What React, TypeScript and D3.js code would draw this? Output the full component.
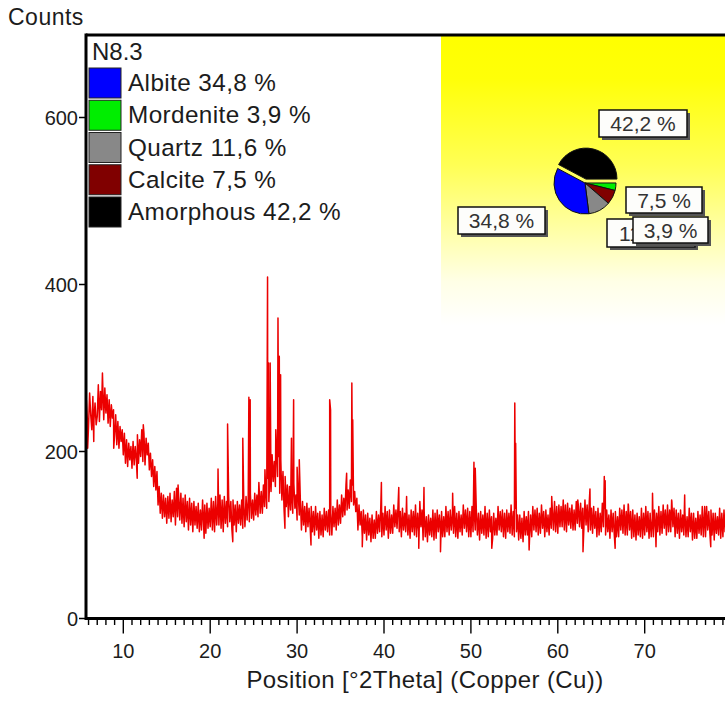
import React from 'react';
import * as d3 from 'd3';

// ---- Diffractogram data (counts every 0.125 °2Theta starting at 5.75) ----
const twoThetaStart = 5.75;
const twoThetaStep = 0.125;
const counts = [
  262, 236,
  230, 270, 244, 226, 266, 238, 258, 232,
  242, 280, 236, 272, 250, 284, 238, 276,
  246, 268, 234, 262, 230, 256, 240, 250,
  220, 244, 208, 236, 204, 230, 212, 226,
  196, 222, 186, 214, 182, 210, 190, 206,
  180, 212, 184, 206, 190, 220, 186, 214,
  194, 226, 188, 222, 184, 216, 196, 210,
  178, 198, 170, 190, 158, 182, 154, 176,
  136, 158, 126, 150, 120, 148, 122, 144,
  114, 146, 120, 150, 116, 142, 122, 152,
  112, 156, 122, 146, 118, 150, 114, 144,
  110, 148, 116, 140, 106, 144, 112, 138,
  104, 140, 112, 134, 108, 138, 104, 130,
  106, 142, 110, 136, 102, 138, 108, 132,
  110, 144, 106, 140, 104, 146, 112, 138,
  112, 148, 108, 142, 104, 146, 114, 140,
  110, 146, 116, 140, 106, 142, 112, 136,
  104, 140, 114, 136, 112, 142, 108, 134,
  110, 146, 118, 144, 116, 150, 120, 142,
  118, 150, 124, 148, 122, 158, 126, 152,
  126, 160, 134, 156, 132, 168, 140, 172,
  152, 196, 164, 188, 158, 204, 170, 194,
  150, 190, 142, 176, 130, 170, 134, 160,
  122, 158, 130, 150, 126, 162, 132, 148,
  118, 150, 124, 142, 106, 140, 112, 134,
  104, 138, 110, 132, 110, 134, 104, 128,
  100, 134, 106, 126, 96, 128, 100, 124,
  98, 132, 106, 128, 104, 130, 100, 126,
  100, 134, 110, 132, 106, 142, 112, 136,
  114, 148, 122, 144, 124, 160, 130, 154,
  132, 166, 140, 160, 136, 152, 128, 144,
  106, 136, 112, 128, 98, 130, 102, 124,
  94, 126, 100, 120, 92, 124, 96, 118,
  96, 128, 102, 124, 104, 132, 98, 126,
  100, 134, 106, 128, 96, 130, 102, 124,
  102, 136, 110, 130, 108, 138, 104, 128,
  98, 132, 106, 126, 104, 130, 100, 124,
  96, 130, 104, 128, 100, 136, 98, 126,
  104, 140, 110, 130, 94, 128, 98, 122,
  92, 124, 100, 120, 98, 130, 94, 126,
  96, 130, 104, 124, 102, 128, 98, 122,
  98, 134, 104, 128, 100, 130, 106, 126,
  102, 134, 98, 126, 96, 128, 104, 124,
  100, 136, 108, 130, 104, 132, 98, 128,
  98, 134, 104, 130, 106, 130, 100, 126,
  94, 128, 102, 124, 100, 134, 96, 126,
  98, 130, 104, 122, 96, 126, 100, 120,
  100, 134, 106, 128, 104, 130, 98, 126,
  96, 130, 104, 126, 102, 136, 100, 128,
  98, 132, 104, 124, 94, 124, 96, 120,
  92, 128, 100, 122, 100, 128, 96, 124,
  98, 134, 106, 130, 104, 132, 100, 126,
  102, 136, 108, 128, 98, 130, 104, 124,
  100, 132, 108, 130, 106, 140, 104, 134,
  102, 136, 110, 134, 110, 142, 106, 136,
  104, 138, 112, 132, 108, 136, 106, 130,
  106, 140, 114, 134, 110, 138, 108, 132,
  108, 142, 112, 136, 104, 140, 106, 132,
  102, 134, 108, 128, 98, 132, 100, 126,
  104, 138, 110, 132, 100, 130, 104, 124,
  96, 130, 104, 126, 100, 128, 98, 122,
  98, 132, 106, 130, 102, 136, 100, 128,
  100, 136, 106, 128, 96, 130, 98, 124,
  94, 126, 100, 122, 98, 132, 96, 126,
  100, 134, 104, 128, 96, 126, 98, 120,
  98, 130, 106, 126, 104, 134, 100, 128,
  102, 136, 108, 130, 100, 136, 104, 130,
  104, 140, 110, 132, 98, 130, 102, 126,
  96, 130, 104, 124, 100, 128, 98, 122,
  98, 132, 104, 126, 94, 126, 96, 120,
  96, 128, 102, 124, 100, 134, 98, 128,
  98, 134, 106, 128, 102, 130, 100, 126,
  94, 126, 102, 122, 100, 132, 96, 126,
  98, 130, 104, 124, 102, 128, 100, 126,
];

// sharp reflections and noise spikes
const peakTheta = [
  5.9, 6.6, 7.6, 8.9, 11.6, 12.3, 16.3, 19.3, 20.9, 22.0, 22.6, 23.75, 24.45, 24.6,
  25.6, 26.3, 26.6, 26.7, 26.9, 27.55, 27.8, 27.95, 28.1, 28.6, 29.35, 29.6, 30.0,
  30.25, 31.6, 33.75, 33.85, 35.7, 36.3, 36.4, 37.5, 39.7, 41.7, 42.6, 44.0, 44.6,
  46.5, 47.9, 50.35, 50.5, 52.4, 55.05, 55.15, 56.7, 59.3, 62.3, 62.9, 63.7, 65.35,
  65.45, 66.6, 68.1, 70.9, 71.3, 73.1, 74.6, 76.9, 77.6,
];
const peakCounts = [
  204, 212, 294, 204, 168, 232, 160, 96, 179, 233, 92, 216, 265, 262,
  163, 178, 409, 306, 306, 226, 360, 314, 292, 108, 216, 262, 181,
  190, 88, 262, 250, 174, 282, 238, 86, 163, 157, 146, 84, 157,
  80, 150, 187, 180, 84, 258, 210, 82, 146, 142, 80, 155, 170,
  165, 84, 137, 150, 86, 142, 148, 134, 86,
];

// ---- Phase quantification ----
const sampleName = 'N8.3';
const phaseNames = ['Albite', 'Mordenite', 'Quartz', 'Calcite', 'Amorphous'];
const phasePercents = [34.8, 3.9, 11.6, 7.5, 42.2];
const phaseColors = ['#0000ff', '#00ee00', '#888888', '#800000', '#000000'];
const pieOrder = [4, 1, 3, 2, 0]; // clockwise, starting with the pulled-out slice

const xTicks = [10, 20, 30, 40, 50, 60, 70];
const yTicks = [0, 200, 400, 600];

const FONT = "'Liberation Sans', Arial, sans-serif";
const TXT = '#1c1c1c';

const fmtPct = (v: number) => `${v.toFixed(1).replace('.', ',')} %`;

export default function App() {
  const W = 725;
  const H = 702;
  const left = 86;
  const right = 726;
  const top = 35;
  const bottom = 618.5;

  const x = d3.scaleLinear().domain([10, 70]).range([123.3, 644.7]);
  const y = d3.scaleLinear().domain([0, 700]).range([bottom, 34]);

  const pts: [number, number][] = counts.map((c, i) => [twoThetaStart + i * twoThetaStep, c]);
  peakTheta.forEach((t, i) => pts.push([t, peakCounts[i]]));
  pts.sort((a, b) => a[0] - b[0]);
  const line = d3
    .line<[number, number]>()
    .x((d) => x(d[0]))
    .y((d) => y(d[1]));

  const minorTicks = d3.range(6, 80);

  // pie
  const pieCx = 585;
  const pieCy = 183;
  const pieR = 31;
  const start = (-62 * Math.PI) / 180;
  const arcs = d3
    .pie<number>()
    .sort(null)
    .value((i) => phasePercents[i])
    .startAngle(start)
    .endAngle(start + 2 * Math.PI)(pieOrder);
  const arc = d3.arc<d3.PieArcDatum<number>>().innerRadius(0).outerRadius(pieR);

  // label boxes relative to pie centre: [dx, dy, w, h]
  const labelBoxes: Record<string, [number, number, number, number]> = {
    Amorphous: [14, -73, 88, 27],
    Albite: [-127, 24, 87, 27],
    Quartz: [22, 36, 88, 28],
    Calcite: [41, 4, 76, 26],
    Mordenite: [48, 34, 75, 26],
  };
  const labelDrawOrder = [4, 0, 2, 3, 1];

  const legendTop = 68;
  const legendRow = 32.25;

  return (
    <svg
      width={W}
      height={H}
      style={{ position: 'absolute', left: 0, top: 0, background: '#fff' }}
      fontFamily={FONT}
    >
      <defs>
        <linearGradient id="yel" x1="0" y1="0" x2="0" y2="1">
          <stop offset="0" stopColor="#ffff00" />
          <stop offset="0.15" stopColor="#ffff08" />
          <stop offset="0.45" stopColor="#ffff55" />
          <stop offset="0.7" stopColor="#ffffb0" />
          <stop offset="0.85" stopColor="#ffffe6" />
          <stop offset="1" stopColor="#ffffff" />
        </linearGradient>
        <clipPath id="plot">
          <rect x={left} y={top} width={right - left} height={bottom - top} />
        </clipPath>
      </defs>

      {/* yellow quantification panel */}
      <rect x={441} y={top} width={right - 441} height={290} fill="url(#yel)" />

      {/* pattern */}
      <g clipPath="url(#plot)">
        <path d={line(pts) || ''} fill="none" stroke="#ec0000" strokeWidth={1.5} strokeLinejoin="round" />
      </g>

      {/* frame */}
      <line x1={left} y1={top} x2={right} y2={top} stroke="#000" strokeWidth={3} />
      <line x1={left} y1={top - 1.5} x2={left} y2={bottom + 1.5} stroke="#000" strokeWidth={3} />
      <line x1={left} y1={bottom} x2={right} y2={bottom} stroke="#000" strokeWidth={3} />

      {/* x ticks */}
      {minorTicks.map((t) => (
        <line
          key={'m' + t}
          x1={x(t)}
          x2={x(t)}
          y1={bottom}
          y2={bottom + (t % 10 === 0 ? 15 : 6.5)}
          stroke="#000"
          strokeWidth={1.4}
        />
      ))}
      {xTicks.map((t) => (
        <text key={'xt' + t} x={x(t)} y={658} fontSize={20} textAnchor="middle" fill={TXT}>
          {t}
        </text>
      ))}
      <text x={425} y={688} fontSize={24} letterSpacing={0.4} textAnchor="middle" fill={TXT}>
        Position [°2Theta] (Copper (Cu))
      </text>

      {/* y ticks */}
      {yTicks.map((t) => (
        <g key={'yt' + t}>
          <line x1={left - 7} x2={left} y1={y(t)} y2={y(t)} stroke="#000" strokeWidth={1.5} />
          <text x={left - 8} y={y(t) + 7} fontSize={20} textAnchor="end" fill={TXT}>
            {t}
          </text>
        </g>
      ))}
      <text x={8} y={25} fontSize={23} letterSpacing={0.5} fill={TXT}>
        Counts
      </text>

      {/* legend */}
      <text x={92} y={60} fontSize={24} fill={TXT}>
        {sampleName}
      </text>
      {phaseNames.map((n, i) => (
        <g key={n}>
          <rect
            x={89}
            y={legendTop + i * legendRow}
            width={32}
            height={30}
            fill={phaseColors[i]}
            stroke="#222"
            strokeWidth={1}
          />
          <text
            x={128}
            y={legendTop + i * legendRow + 23}
            fontSize={24.3}
            letterSpacing={0.4}
            fill={TXT}
          >
            {`${n} ${fmtPct(phasePercents[i])}`}
          </text>
        </g>
      ))}

      {/* pie */}
      <g transform={`translate(${pieCx},${pieCy})`}>
        {arcs.map((a) => {
          const mid = (a.startAngle + a.endAngle) / 2;
          const off = a.data === 4 ? 4 : 0;
          return (
            <path
              key={a.data}
              d={arc(a) || ''}
              transform={`translate(${off * Math.sin(mid)},${-off * Math.cos(mid)})`}
              fill={phaseColors[a.data]}
              stroke="#111"
              strokeWidth={1}
            />
          );
        })}
      </g>

      {/* pie labels */}
      {labelDrawOrder.map((i) => {
        const [dx, dy, w, h] = labelBoxes[phaseNames[i]];
        const bx = pieCx + dx;
        const by = pieCy + dy;
        return (
          <g key={'lb' + i}>
            <rect x={bx + 3} y={by + 3} width={w} height={h} fill="#555" />
            <rect x={bx} y={by} width={w} height={h} fill="#fdfdfb" stroke="#111" strokeWidth={1.5} />
            <text x={bx + w / 2} y={by + h / 2 + 7.5} fontSize={21} textAnchor="middle" fill="#333">
              {fmtPct(phasePercents[i])}
            </text>
          </g>
        );
      })}
    </svg>
  );
}
